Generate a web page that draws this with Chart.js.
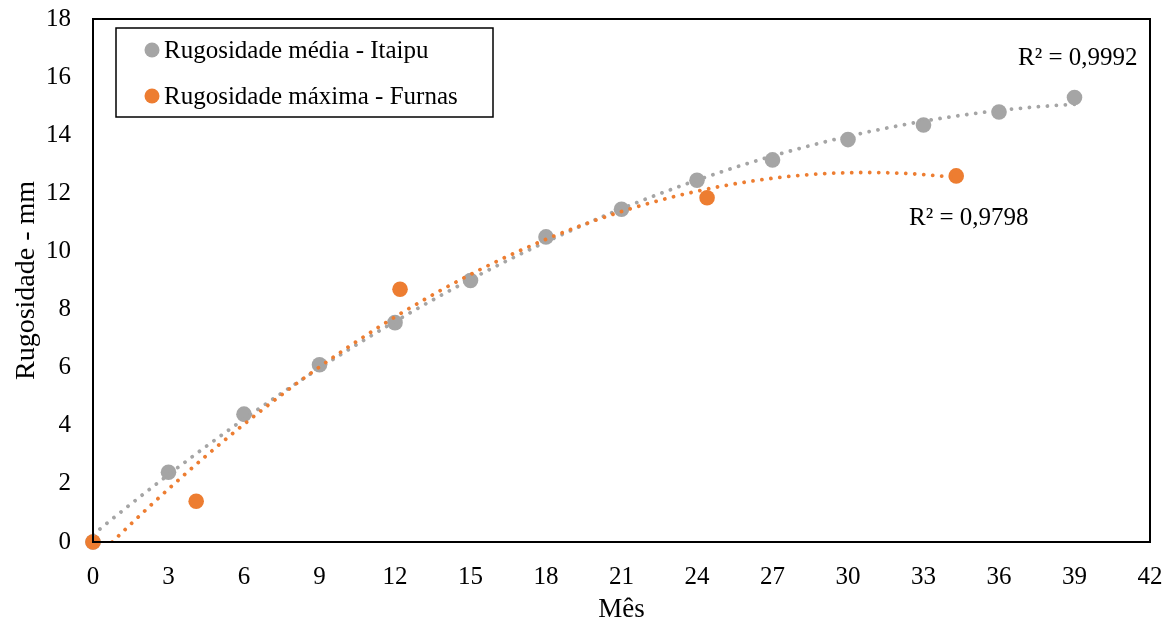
<!DOCTYPE html>
<html>
<head>
<meta charset="utf-8">
<script src="https://cdn.jsdelivr.net/npm/chart.js@4"></script>
<style>
  html, body { margin: 0; padding: 0; background: #fff; }
  #wrap { width: 1173px; height: 624px; }
</style>
</head>
<body>
<div id="wrap"><canvas id="chart" width="1173" height="624"></canvas></div>
<script>
// data
const itaipuMonths = [0, 3, 6, 9, 12, 15, 18, 21, 24, 27, 30, 33, 36, 39];
const itaipuValues = [0, 2.4, 4.4, 6.1, 7.55, 9.0, 10.5, 11.45, 12.45, 13.15, 13.85, 14.35, 14.8, 15.3];
const furnasMonths = [0, 4.1, 12.2, 24.4, 34.3];
const furnasValues = [0, 1.4, 8.7, 11.85, 12.6];
const seriesLabels = ['Rugosidade média - Itaipu', 'Rugosidade máxima - Furnas'];
const r2Labels = ['R² = 0,9992', 'R² = 0,9798'];
const xTicks = [0, 3, 6, 9, 12, 15, 18, 21, 24, 27, 30, 33, 36, 39, 42];
const yTicks = [0, 2, 4, 6, 8, 10, 12, 14, 16, 18];

const GREY = '#A5A5A5';
const ORANGE = '#ED7D31';
const FONT = '"Liberation Serif", "Times New Roman", serif';

function toPoints(xs, ys) {
    return xs.map((x, i) => ({ x: x, y: ys[i] }));
}

// least squares fit, order 2 (same as the spreadsheet trendline)
function polyFit2(xs, ys) {
    let n = xs.length, sx = 0, sx2 = 0, sx3 = 0, sx4 = 0, sy = 0, sxy = 0, sx2y = 0;
    for (let i = 0; i < n; i++) {
        const x = xs[i], y = ys[i];
        sx += x; sx2 += x * x; sx3 += x * x * x; sx4 += x * x * x * x;
        sy += y; sxy += x * y; sx2y += x * x * y;
    }
    const m = [[n, sx, sx2, sy], [sx, sx2, sx3, sxy], [sx2, sx3, sx4, sx2y]];
    for (let c = 0; c < 3; c++) {
        for (let r = c + 1; r < 3; r++) {
            const f = m[r][c] / m[c][c];
            for (let k = c; k < 4; k++) m[r][k] -= f * m[c][k];
        }
    }
    const coef = [0, 0, 0];
    for (let r = 2; r >= 0; r--) {
        let s = m[r][3];
        for (let k = r + 1; k < 3; k++) s -= m[r][k] * coef[k];
        coef[r] = s / m[r][r];
    }
    return coef; // a0 + a1 x + a2 x^2
}

const trends = [
    { xs: itaipuMonths, ys: itaipuValues, color: GREY },
    { xs: furnasMonths, ys: furnasValues, color: ORANGE }
];

// trendlines, frame, R² labels and legend box
const decorPlugin = {
    id: 'decor',
    afterDatasetsDraw(chart) {
        const ctx = chart.ctx;
        const area = chart.chartArea;
        const xs = chart.scales.x, ys = chart.scales.y;

        ctx.save();
        ctx.beginPath();
        ctx.rect(area.left, area.top, area.right - area.left, area.bottom - area.top);
        ctx.clip();
        trends.forEach(t => {
            const c = polyFit2(t.xs, t.ys);
            const x0 = Math.min(...t.xs), x1 = Math.max(...t.xs);
            ctx.beginPath();
            for (let i = 0; i <= 300; i++) {
                const x = x0 + (x1 - x0) * i / 300;
                const y = c[0] + c[1] * x + c[2] * x * x;
                const px = xs.getPixelForValue(x), py = ys.getPixelForValue(y);
                if (i === 0) ctx.moveTo(px, py); else ctx.lineTo(px, py);
            }
            ctx.strokeStyle = t.color;
            ctx.lineWidth = 3.8;
            ctx.lineCap = 'round';
            ctx.setLineDash([0.01, 9]);
            ctx.stroke();
        });
        ctx.restore();

        ctx.save();
        // plot frame
        ctx.strokeStyle = '#000';
        ctx.lineWidth = 2;
        ctx.strokeRect(area.left, area.top, area.right - area.left, area.bottom - area.top);

        // R² labels
        ctx.fillStyle = '#000';
        ctx.font = '25px ' + FONT;
        ctx.textBaseline = 'alphabetic';
        ctx.textAlign = 'left';
        ctx.fillText(r2Labels[0], 1018, 65);
        ctx.fillText(r2Labels[1], 909, 225);

        // legend box
        ctx.lineWidth = 1.5;
        ctx.strokeRect(116, 28, 377, 89);
        const colors = [GREY, ORANGE];
        const rows = [50, 96];
        rows.forEach((ry, i) => {
            ctx.beginPath();
            ctx.arc(152, ry, 7.5, 0, Math.PI * 2);
            ctx.fillStyle = colors[i];
            ctx.fill();
            ctx.fillStyle = '#000';
            ctx.textBaseline = 'middle';
            ctx.fillText(seriesLabels[i], 164, ry + 1);
        });
        ctx.restore();
    }
};

const ctx = document.getElementById('chart').getContext('2d');
new Chart(ctx, {
    type: 'scatter',
    data: {
        datasets: [
            {
                label: seriesLabels[0],
                data: toPoints(itaipuMonths, itaipuValues),
                backgroundColor: GREY,
                borderColor: GREY,
                pointRadius: 7.8,
                pointHoverRadius: 7.8,
                borderWidth: 0,
                clip: false,
                order: 1
            },
            {
                label: seriesLabels[1],
                data: toPoints(furnasMonths, furnasValues),
                backgroundColor: ORANGE,
                borderColor: ORANGE,
                pointRadius: 7.8,
                pointHoverRadius: 7.8,
                borderWidth: 0,
                clip: false,
                order: 0
            }
        ]
    },
    options: {
        responsive: false,
        animation: false,
        devicePixelRatio: 1,
        layout: { padding: { top: 19, right: 23, left: 0, bottom: 0 } },
        plugins: {
            legend: { display: false },
            tooltip: { enabled: false }
        },
        scales: {
            x: {
                type: 'linear',
                min: 0,
                max: 42,
                afterBuildTicks: axis => { axis.ticks = xTicks.map(v => ({ value: v })); },
                afterFit: axis => {
                    axis.height = 82;
                    axis.paddingLeft = 0;
                    axis.paddingRight = 0;
                },
                grid: { display: false },
                border: { display: false },
                ticks: {
                    color: '#000',
                    padding: 12,
                    maxRotation: 0,
                    font: { family: FONT, size: 25 }
                },
                title: {
                    display: true,
                    text: 'Mês',
                    color: '#000',
                    padding: { top: 0, bottom: -2 },
                    font: { family: FONT, size: 27 }
                }
            },
            y: {
                type: 'linear',
                min: 0,
                max: 18,
                afterBuildTicks: axis => { axis.ticks = yTicks.map(v => ({ value: v })); },
                afterFit: axis => {
                    axis.width = 93;
                    axis.paddingTop = 0;
                    axis.paddingBottom = 0;
                },
                grid: { display: false },
                border: { display: false },
                ticks: {
                    color: '#000',
                    padding: 14,
                    font: { family: FONT, size: 25 }
                },
                title: {
                    display: true,
                    text: 'Rugosidade - mm',
                    color: '#000',
                    padding: { top: 10, bottom: 0 },
                    font: { family: FONT, size: 28 }
                }
            }
        }
    },
    plugins: [decorPlugin]
});
</script>
</body>
</html>
